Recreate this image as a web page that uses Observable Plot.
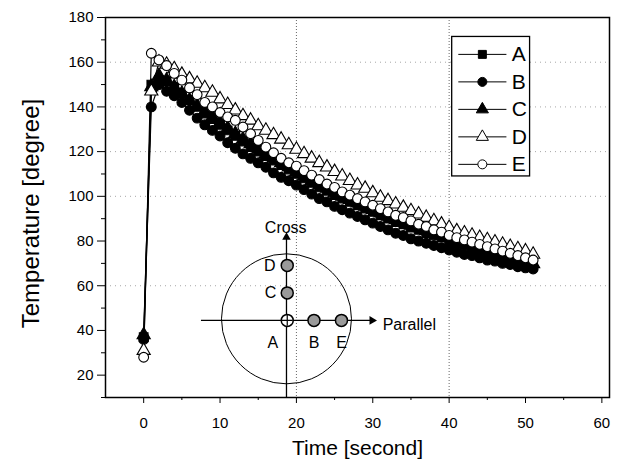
<!DOCTYPE html>
<html><head><meta charset="utf-8">
<script src="https://cdn.jsdelivr.net/npm/d3@7"></script>
<script src="https://cdn.jsdelivr.net/npm/@observablehq/plot@0.6"></script>
<style>body{margin:0;background:#fff;font-family:"Liberation Sans",Arial,sans-serif}</style>
</head><body><div id="chart"></div>
<script>
// --- data ---
const times = [0,1,2,3,4,5,6,7,8,9,10,11,12,13,14,15,16,17,18,19,20,21,22,23,24,25,26,27,28,29,30,31,32,33,34,35,36,37,38,39,40,41,42,43,44,45,46,47,48,49,50,51];
const seriesNames = ["A","B","C","D","E"];
const seriesSymbols = ["square","circle","triangle","triangle","circle"];
const seriesFills = ["black","black","black","white","white"];
const tempA = [37,150,152,151.5,149,146,143,140,137,134.5,132,129.5,127,124.5,122,120,118,116,114,112,110,108,106,104,102.5,100.5,99,97.5,96,94.5,93,91.5,90,88.5,87.5,86,85,83.5,82.5,81.5,80,79,78,77,76,75,74,73,72,71,70,69];
const tempB = [36,140,150,147,145,142,138.5,135,132,129.5,127,124,121.5,119,117,115,113,110.5,108.5,107,105,103,101,99,97.5,95.5,94,92.5,91,89.5,88,86.5,85,83.5,82.5,81,80,79,78,77,76,75,74,73.5,72.5,71.5,71,70,69.5,68.5,68,67.5];
const tempC = [38,149,154,152,149,146,143,140.5,138,135.5,133,130.5,128,125.5,123.5,121,119,117,115,113,111,109,107,105,103.5,101.5,100,98.5,97,95.5,94,92.5,91,89.5,88.5,87,86,84.5,83.5,82.5,81.5,80.5,79.5,78.5,77,76,75,74,73,72,70.8,69.8];
const tempD = [31,147,160,159,157,154.5,152.5,150.5,148.5,146.5,143.5,141,138.5,136,134,131.5,129.5,127.5,125.5,123,121,119,117,115,113,111,109,107,105,103.5,101.5,99.5,98,96.5,95,93.5,92,90.5,89,87.5,86,84.5,83.5,82.5,81.5,80.5,79.5,78.5,77.5,76.5,75.5,74];
const tempE = [28,164,161,158.5,155,152,148.5,145.5,142,140,137.5,135.5,134,131,128,125,122,119.5,117,115,113.5,111.5,109.5,107.5,105.5,104,102,100.5,99,97.5,96,94.5,93,91.5,90.5,89,87.5,86.5,85,84,82.5,81.5,80.5,79.5,78.5,77.5,76.5,75.5,74.5,73.5,72.5,71.5];
const xTicks = [0,10,20,30,40,50,60];
const xMinor = [5,15,25,35,45,55];
const yTicks = [20,40,60,80,100,120,140,160,180];
const yMinor = [10,30,50,70,90,110,130,150,170];
const gridXVals = [20,40];
const gridYVals = [60,100,120,140,160];

// inset diagram (sensor layout), in data units
const sensorNames = ["A","B","C","D","E"];
const sensorX = [18.8,22.3,18.8,18.8,25.9];
const sensorY = [44.5,44.5,56.8,69.1,44.5];
const sensorFill = ["white","#9a9a9a","#9a9a9a","#9a9a9a","#9a9a9a"];
const sensorLabelX = [16.9,22.3,16.6,16.5,25.9];
const sensorLabelY = [34.6,34.6,56.8,69.1,34.6];
const sectionCenter = [{x:18.7, y:45.2}];
const crossArrow = [{x1:18.7, y1:10, x2:18.7, y2:81.7}];
const parallelArrow = [{x1:7.5, y1:44.5, x2:29.9, y2:44.5}];
const axisNames = [{text:"Cross", x:18.6, y:86.0, anchor:"middle"},{text:"Parallel", x:31.3, y:42.3, anchor:"start"}];

// legend placement (data units)
const legendY = [163.5,151.2,138.9,126.6,114.3];
const legendBox = [{x1:40.4, x2:50.6, y1:108.9, y2:171.3}];
const legendLineX = [41.2, 47.5];
const legendSymX = 44.35;
const legendTextX = 48.2;

// --- build ---
const temps = [tempA,tempB,tempC,tempD,tempE];
const rows = seriesNames.flatMap((s,i)=>times.map((t,j)=>({series:s, time:t, temp:temps[i][j]})));
const sensors = sensorNames.map((n,i)=>({name:n, x:sensorX[i], y:sensorY[i], fill:sensorFill[i], lx:sensorLabelX[i], ly:sensorLabelY[i]}));
const legend = seriesNames.map((s,i)=>({series:s, y:legendY[i], x1:legendLineX[0], x2:legendLineX[1]}));

const marks = [
  Plot.gridX(gridXVals, {stroke:"black", strokeOpacity:0.6, strokeDasharray:"1,2"}),
  Plot.gridY(gridYVals, {stroke:"black", strokeOpacity:0.35, strokeDasharray:"1,4"}),
  Plot.axisY(yTicks, {tickSize:8, tickPadding:4, fontSize:15, label:null}),
  Plot.axisY(yMinor, {tickSize:4, tickFormat:()=>"", label:null}),
  Plot.axisX(xTicks, {tickSize:6, tickPadding:14, fontSize:15, label:null}),
  Plot.axisX(xMinor, {tickSize:3, tickFormat:()=>"", label:null}),
  Plot.text(["Time [second]"], {frameAnchor:"bottom", lineAnchor:"middle", dy:51, fontSize:21}),
  Plot.text(["Temperature [degree]"], {frameAnchor:"left", textAnchor:"middle", lineAnchor:"middle", dx:-74, dy:6, rotate:-90, fontSize:24}),
  // inset
  Plot.dot(sectionCenter, {x:"x", y:"y", r:65, fill:"none", stroke:"black", strokeWidth:1}),
  Plot.link(crossArrow, {x1:"x1", y1:"y1", x2:"x2", y2:"y2", stroke:"black", strokeWidth:1.3}),
  Plot.link(parallelArrow, {x1:"x1", y1:"y1", x2:"x2", y2:"y2", stroke:"black", strokeWidth:1.3}),
  Plot.dot(crossArrow, {x:"x2", y:"y2", symbol:"triangle", r:3.2, fill:"black", stroke:"none"}),
  Plot.dot(parallelArrow, {x:"x2", y:"y2", symbol:"triangle", r:3.2, rotate:90, fill:"black", stroke:"none"}),
  Plot.dot(sensors, {x:"x", y:"y", r:6, fill:"fill", stroke:"black", strokeWidth:1.5}),
  Plot.dot(sensors.filter(d=>d.name==="A"), {x:"x", y:"y", r:3.6, symbol:"plus", stroke:"black", strokeWidth:1.2}),
  Plot.text(sensors, {x:"lx", y:"ly", text:"name", fontSize:16}),
  Plot.text(axisNames, {x:"x", y:"y", text:"text", textAnchor:"start", fontSize:16, filter:d=>d.anchor==="start"}),
  Plot.text(axisNames, {x:"x", y:"y", text:"text", fontSize:16, filter:d=>d.anchor==="middle"}),
  // series lines
  Plot.line(rows, {x:"time", y:"temp", z:"series", stroke:"black", strokeWidth:1.2}),
  ...seriesNames.map((s,i)=>Plot.dot(rows.filter(r=>r.series===s), {x:"time", y:"temp", symbol:seriesSymbols[i], r:4.9, fill:seriesFills[i], stroke:"black", strokeWidth:1.1})),
  // legend
  Plot.rect(legendBox, {x1:"x1", x2:"x2", y1:"y1", y2:"y2", fill:"white", stroke:"black", strokeWidth:1.3}),
  Plot.link(legend, {x1:"x1", x2:"x2", y1:"y", y2:"y", stroke:"black", strokeWidth:1}),
  ...seriesNames.map((s,i)=>Plot.dot(legend.filter(d=>d.series===s), {x:()=>legendSymX, y:"y", symbol:seriesSymbols[i], r:4.5, fill:seriesFills[i], stroke:"black", strokeWidth:1})),
  Plot.text(legend, {x:()=>legendTextX, y:"y", text:"series", textAnchor:"start", fontSize:21}),
  Plot.frame({stroke:"black", strokeWidth:1.5})
];

const chart = Plot.plot({
  width:634, height:466,
  marginLeft:105, marginRight:25, marginTop:17, marginBottom:69,
  x:{domain:[-5,61]},
  y:{domain:[10,180]},
  style:{fontFamily:"'Liberation Sans', Arial, sans-serif", color:"black", background:"white"},
  marks
});
document.getElementById("chart").appendChild(chart);
</script>
</body></html>
